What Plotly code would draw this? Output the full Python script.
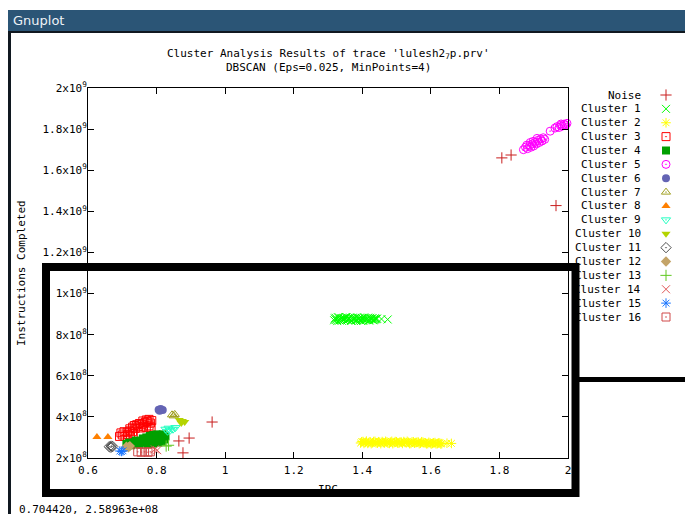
import plotly.graph_objects as go

# The page body adds an 8px offset, so the figure covers screen pixels 8..693 x 8..514
OFF = 8
W, H = 693 - OFF, 514 - OFF
MONO = "DejaVu Sans Mono"

# ---------------- axis ticks ----------------
x_ticks = [0.6, 0.8, 1.0, 1.2, 1.4, 1.6, 1.8, 2.0]
x_labels = ["0.6", "0.8", "1", "1.2", "1.4", "1.6", "1.8", "2"]
y_ticks = [2e8, 4e8, 6e8, 8e8, 1e9, 1.2e9, 1.4e9, 1.6e9, 1.8e9, 2e9]
y_labels = ["2x10<sup>8</sup>", "4x10<sup>8</sup>", "6x10<sup>8</sup>", "8x10<sup>8</sup>",
            "1x10<sup>9</sup>", "1.2x10<sup>9</sup>", "1.4x10<sup>9</sup>", "1.6x10<sup>9</sup>",
            "1.8x10<sup>9</sup>", "2x10<sup>9</sup>"]

# ---------------- series ----------------
series_names = ["Noise", "Cluster 1", "Cluster 2", "Cluster 3", "Cluster 4", "Cluster 5",
                "Cluster 6", "Cluster 7", "Cluster 8", "Cluster 9", "Cluster 10", "Cluster 11",
                "Cluster 12", "Cluster 13", "Cluster 14", "Cluster 15", "Cluster 16"]
series_colors = ["#c81e1e", "#00ff00", "#ffff00", "#ff0000", "#00a000", "#ff00ff",
                 "#6464b4", "#a0a020", "#ff8000", "#20ffc0", "#b4d400", "#505050",
                 "#c4a468", "#60c820", "#e05858", "#1874ff", "#d04848"]
series_symbols = ["cross-thin-open", "x-thin-open", "asterisk-open", "square-open-dot", "square",
                  "circle-open-dot", "circle", "triangle-up-open-dot", "triangle-up",
                  "triangle-down-open-dot", "triangle-down", "diamond-open-dot", "diamond",
                  "cross-thin-open", "x-thin-open", "asterisk-open", "square-open-dot"]

noise_x = [1.807, 1.834, 1.965, 0.962, 0.865, 0.895, 0.877]
noise_y = [1.66e9, 1.674e9, 1.428e9, 3.75e8, 2.83e8, 2.97e8, 2.25e8]

c1_x = [1.318, 1.322, 1.327, 1.331, 1.336, 1.340, 1.345, 1.349, 1.354, 1.358, 1.363, 1.367,
        1.372, 1.376, 1.381, 1.385, 1.390, 1.394, 1.399, 1.403, 1.408, 1.412, 1.417, 1.421,
        1.426, 1.430, 1.435, 1.439, 1.443, 1.456, 1.474,
        1.320, 1.3245, 1.329, 1.3335, 1.338, 1.3425, 1.347, 1.3515, 1.356, 1.3605, 1.365,
        1.3695, 1.374, 1.3785, 1.383, 1.3875, 1.392, 1.3965, 1.401, 1.4055, 1.410, 1.4145,
        1.419, 1.4235, 1.428, 1.4325, 1.437, 1.441]
c1_y = [8.70e8, 8.82e8, 8.66e8, 8.85e8, 8.74e8, 8.68e8, 8.80e8, 8.77e8, 8.86e8, 8.71e8,
        8.79e8, 8.67e8, 8.83e8, 8.75e8, 8.69e8, 8.84e8, 8.78e8, 8.72e8, 8.81e8, 8.67e8,
        8.79e8, 8.73e8, 8.83e8, 8.70e8, 8.77e8, 8.81e8, 8.72e8, 8.75e8, 8.78e8, 8.76e8, 8.74e8,
        8.78e8, 8.72e8, 8.84e8, 8.69e8, 8.80e8, 8.75e8, 8.71e8, 8.85e8, 8.73e8, 8.79e8,
        8.83e8, 8.68e8, 8.76e8, 8.82e8, 8.70e8, 8.74e8, 8.81e8, 8.67e8, 8.78e8, 8.84e8,
        8.71e8, 8.77e8, 8.69e8, 8.82e8, 8.74e8, 8.70e8, 8.80e8, 8.77e8]

c2_x = [1.395, 1.402, 1.409, 1.416, 1.423, 1.430, 1.437, 1.444, 1.451, 1.458, 1.465, 1.472,
        1.479, 1.486, 1.493, 1.500, 1.507, 1.514, 1.521, 1.528, 1.535, 1.542, 1.549, 1.556,
        1.563, 1.570, 1.577, 1.584, 1.591, 1.598, 1.605, 1.612, 1.619, 1.626, 1.632, 1.647, 1.660,
        1.398, 1.405, 1.412, 1.419, 1.426, 1.433, 1.440, 1.447, 1.454, 1.461, 1.468, 1.475,
        1.482, 1.489, 1.496, 1.503, 1.510, 1.517, 1.524, 1.531, 1.538, 1.545, 1.552, 1.559,
        1.566, 1.573, 1.580, 1.587, 1.594, 1.601, 1.608, 1.615, 1.622, 1.629]
c2_y = [2.73e8, 2.80e8, 2.76e8, 2.71e8, 2.79e8, 2.74e8, 2.81e8, 2.72e8, 2.77e8, 2.80e8,
        2.73e8, 2.78e8, 2.71e8, 2.81e8, 2.75e8, 2.79e8, 2.72e8, 2.77e8, 2.80e8, 2.74e8,
        2.76e8, 2.71e8, 2.79e8, 2.75e8, 2.78e8, 2.72e8, 2.77e8, 2.74e8, 2.70e8, 2.73e8,
        2.71e8, 2.75e8, 2.70e8, 2.73e8, 2.70e8, 2.72e8, 2.71e8,
        2.79e8, 2.71e8, 2.82e8, 2.75e8, 2.70e8, 2.80e8, 2.74e8, 2.79e8, 2.70e8, 2.75e8,
        2.81e8, 2.72e8, 2.77e8, 2.70e8, 2.80e8, 2.73e8, 2.78e8, 2.71e8, 2.76e8, 2.81e8,
        2.70e8, 2.78e8, 2.72e8, 2.76e8, 2.70e8, 2.79e8, 2.73e8, 2.69e8, 2.76e8, 2.68e8,
        2.74e8, 2.69e8, 2.73e8, 2.68e8]

c3_x = [0.692, 0.700, 0.708, 0.716, 0.724, 0.732, 0.696, 0.705, 0.714, 0.722, 0.730,
        0.722, 0.730, 0.738, 0.746, 0.754, 0.762, 0.770, 0.778, 0.784, 0.742, 0.750,
        0.758, 0.766, 0.774, 0.782, 0.770, 0.778, 0.786, 0.760, 0.735]
c3_y = [3.05e8, 3.12e8, 3.05e8, 3.15e8, 3.08e8, 3.18e8, 3.22e8, 3.28e8, 3.25e8, 3.32e8,
        3.28e8, 3.42e8, 3.50e8, 3.44e8, 3.52e8, 3.46e8, 3.55e8, 3.48e8, 3.56e8, 3.50e8,
        3.62e8, 3.68e8, 3.64e8, 3.72e8, 3.78e8, 3.70e8, 3.85e8, 3.88e8, 3.82e8, 3.80e8, 3.58e8]

c4_x = [0.712, 0.720, 0.728, 0.736, 0.744, 0.752, 0.760, 0.768, 0.776, 0.784, 0.792, 0.800,
        0.808, 0.816, 0.822, 0.826, 0.770, 0.780, 0.790, 0.800, 0.810, 0.818, 0.760, 0.740,
        0.750, 0.790, 0.805, 0.815, 0.725, 0.775]
c4_y = [2.68e8, 2.75e8, 2.70e8, 2.78e8, 2.72e8, 2.80e8, 2.74e8, 2.85e8, 2.78e8, 2.90e8,
        2.82e8, 2.95e8, 2.86e8, 3.00e8, 2.90e8, 3.05e8, 3.00e8, 3.08e8, 3.12e8, 3.15e8,
        3.12e8, 3.15e8, 2.95e8, 2.85e8, 2.65e8, 2.70e8, 2.75e8, 2.80e8, 2.62e8, 2.68e8]

c5_x = [1.870, 1.876, 1.882, 1.888, 1.880, 1.892, 1.896, 1.900, 1.904, 1.898, 1.908, 1.912,
        1.916, 1.920, 1.924, 1.928, 1.932, 1.910, 1.890, 1.948, 1.962, 1.968, 1.974, 1.978,
        1.984, 1.988, 1.993, 1.997, 1.980]
c5_y = [1.700e9, 1.712e9, 1.705e9, 1.720e9, 1.722e9, 1.712e9, 1.728e9, 1.718e9, 1.735e9,
        1.740e9, 1.728e9, 1.745e9, 1.735e9, 1.752e9, 1.742e9, 1.758e9, 1.750e9, 1.755e9,
        1.735e9, 1.790e9, 1.805e9, 1.812e9, 1.808e9, 1.818e9, 1.815e9, 1.824e9, 1.820e9,
        1.828e9, 1.825e9]

c6_x = [0.806, 0.812, 0.818, 0.809]
c6_y = [4.35e8, 4.38e8, 4.33e8, 4.30e8]

c7_x = [0.845, 0.850, 0.853]
c7_y = [4.10e8, 4.05e8, 4.12e8]

c8_x = [0.626, 0.658]
c8_y = [3.02e8, 3.02e8]

c9_x = [0.826, 0.835, 0.840, 0.848, 0.855, 0.832]
c9_y = [3.40e8, 3.45e8, 3.35e8, 3.40e8, 3.48e8, 3.30e8]

c10_x = [0.866, 0.875, 0.882, 0.872]
c10_y = [3.85e8, 3.80e8, 3.75e8, 3.70e8]

c11_x = [0.662, 0.667, 0.672, 0.668]
c11_y = [2.55e8, 2.52e8, 2.56e8, 2.58e8]

c12_x = [0.712, 0.718, 0.722]
c12_y = [2.55e8, 2.52e8, 2.58e8]

c13_x = [0.828, 0.835]
c13_y = [2.58e8, 2.62e8]

c14_x = [0.795, 0.802]
c14_y = [2.42e8, 2.38e8]

c15_x = [0.693, 0.698, 0.702]
c15_y = [2.34e8, 2.32e8, 2.35e8]

c16_x = [0.745, 0.755, 0.765, 0.775, 0.782]
c16_y = [2.30e8, 2.28e8, 2.30e8, 2.28e8, 2.30e8]

series_x = [noise_x, c1_x, c2_x, c3_x, c4_x, c5_x, c6_x, c7_x, c8_x, c9_x, c10_x,
            c11_x, c12_x, c13_x, c14_x, c15_x, c16_x]
series_y = [noise_y, c1_y, c2_y, c3_y, c4_y, c5_y, c6_y, c7_y, c8_y, c9_y, c10_y,
            c11_y, c12_y, c13_y, c14_y, c15_y, c16_y]

title_line1 = "Cluster Analysis Results of trace 'lulesh2<sub>7</sub>p.prv'"
title_line2 = "DBSCAN (Eps=0.025, MinPoints=4)"
x_title = "IPC"
y_title = "Instructions Completed"
window_title = "Gnuplot"
status_text = "0.704420, 2.58963e+08"


# screen pixel -> paper helpers (margins are zero, so paper == whole figure)
def X(px):
    return (px - OFF) / W


def Y(py):
    return 1 - (py - OFF) / H


def marker_style(i):
    sym = series_symbols[i]
    is_open = "open" in sym
    return dict(symbol=sym, size=8, color=series_colors[i],
                line=dict(width=1 if is_open else 0, color=series_colors[i]))


fig = go.Figure()

for i, name in enumerate(series_names):
    fig.add_trace(go.Scatter(x=series_x[i], y=series_y[i], mode="markers", name=name,
                             marker=marker_style(i), cliponaxis=False,
                             showlegend=False, hoverinfo="skip"))

# key markers (gnuplot-style key: label then symbol)
for i, name in enumerate(series_names):
    fig.add_trace(go.Scatter(x=[0], y=[i], mode="markers", name=name,
                             marker=marker_style(i), cliponaxis=False,
                             xaxis="x2", yaxis="y2", showlegend=False, hoverinfo="skip"))

# plot area in screen pixels
PL, PR, PT, PB = 88, 568, 88, 458
KEY_TOP, KEY_STEP = 95, 13.875
n_key = len(series_names)

annotations = [
    dict(text=window_title, x=X(11), y=Y(20.5), xanchor="left", yanchor="middle",
         font=dict(family="DejaVu Sans", size=13, color="#eef2f6")),
    dict(text=title_line1, x=X(328), y=Y(54), xanchor="center", yanchor="middle",
         font=dict(family=MONO, size=11, color="black")),
    dict(text=title_line2, x=X(328), y=Y(67), xanchor="center", yanchor="middle",
         font=dict(family=MONO, size=11, color="black")),
    dict(text=y_title, x=X(21), y=Y(273), xanchor="center", yanchor="middle", textangle=-90,
         font=dict(family=MONO, size=11, color="black")),
    dict(text=x_title, x=X(328), y=Y(489), xanchor="center", yanchor="middle",
         font=dict(family=MONO, size=11, color="black")),
    # black band of the overlay frame covering the axis title
    dict(text=" ", x=X(290), y=Y(489), xanchor="left", yanchor="top", width=80, height=8,
         bgcolor="black", borderpad=0, borderwidth=0, font=dict(size=1, color="black")),
    dict(text=status_text, x=X(17), y=Y(509), xanchor="left", yanchor="middle",
         font=dict(family=MONO, size=11, color="black")),
]
for i, name in enumerate(series_names):
    annotations.append(dict(text=name, x=X(643), y=Y(KEY_TOP + i * KEY_STEP),
                            xanchor="right", yanchor="middle",
                            font=dict(family=MONO, size=11, color="black")))
for a in annotations:
    a.update(xref="paper", yref="paper", showarrow=False)

shapes = [
    # window title bar
    dict(type="rect", x0=X(8), x1=X(693), y0=Y(31), y1=Y(10),
         fillcolor="#2b5576", line=dict(width=0)),
    # window borders
    dict(type="rect", x0=X(8), x1=X(693), y0=Y(33), y1=Y(31),
         fillcolor="#101820", line=dict(width=0)),
    dict(type="rect", x0=X(8), x1=X(11), y0=Y(514), y1=Y(31),
         fillcolor="#101820", line=dict(width=0)),
    # thick black overlay frame
    dict(type="rect", x0=X(46), x1=X(575.5), y0=Y(493), y1=Y(267),
         fillcolor="rgba(0,0,0,0)", line=dict(width=8, color="black")),
    # black line to the right
    dict(type="rect", x0=X(579), x1=X(693), y0=Y(382), y1=Y(377),
         fillcolor="black", line=dict(width=0)),
]
for s in shapes:
    s.update(xref="paper", yref="paper", layer="above")

axis_common = dict(showline=True, linecolor="black", linewidth=1, mirror="ticks",
                   ticks="inside", ticklen=6, tickwidth=1, tickcolor="black",
                   showgrid=False, zeroline=False, automargin=False,
                   tickfont=dict(family=MONO, size=11, color="black"))

fig.update_layout(
    width=W, height=H,
    margin=dict(l=0, r=0, t=0, b=0, pad=0, autoexpand=False),
    paper_bgcolor="white", plot_bgcolor="white",
    font=dict(family=MONO, size=11, color="black"),
    showlegend=False,
    xaxis=dict(domain=[X(PL), X(PR)], range=[0.6, 2.0], tickmode="array",
               tickvals=x_ticks, ticktext=x_labels, ticklabelstandoff=2, **axis_common),
    yaxis=dict(domain=[Y(PB), Y(PT)], range=[2e8, 2e9], tickmode="array",
               tickvals=y_ticks, ticktext=y_labels, ticklabelstandoff=-2, **axis_common),
    xaxis2=dict(domain=[X(656), X(676)], range=[-1, 1], visible=False, anchor="y2",
                fixedrange=True),
    yaxis2=dict(domain=[Y(KEY_TOP + (n_key - 0.5) * KEY_STEP), Y(KEY_TOP - 0.5 * KEY_STEP)],
                range=[n_key - 0.5, -0.5], visible=False, anchor="x2", fixedrange=True),
    annotations=annotations,
    shapes=shapes,
)

fig.write_html("out.html")
